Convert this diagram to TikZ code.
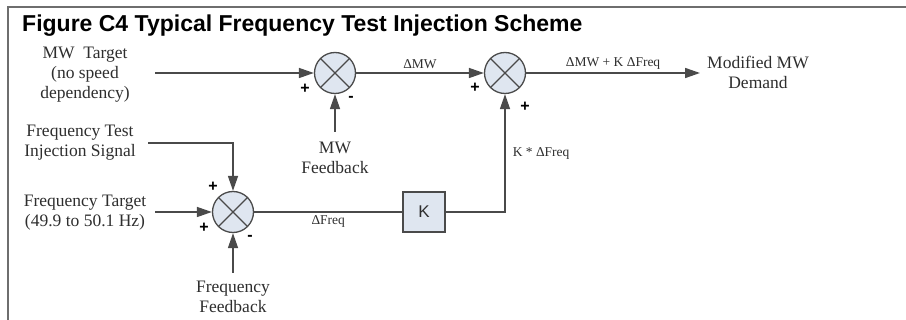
\documentclass[tikz,border=0pt]{standalone}
\usepackage{fontspec}
\setmainfont{Liberation Serif}
\setsansfont{Liberation Sans}
\usetikzlibrary{arrows.meta,positioning}
\definecolor{sumfill}{HTML}{DFE6F0}
\definecolor{linegray}{HTML}{4A4A4A}
\definecolor{txtgray}{HTML}{2E2E2E}
\tikzset{
  sumnode/.style={circle,draw=linegray,fill=sumfill,line width=1.3pt,minimum size=41pt,inner sep=0pt,
    path picture={\draw[linegray,line width=1.3pt]
      (path picture bounding box.south west) -- (path picture bounding box.north east)
      (path picture bounding box.north west) -- (path picture bounding box.south east);}},
  gainbox/.style={draw=linegray,fill=sumfill,line width=1.3pt,minimum width=42pt,minimum height=40pt,
    font=\sffamily\fontsize{17}{18}\selectfont,text=txtgray},
  txt/.style={align=center,text=txtgray,font=\fontsize{17.5}{20}\selectfont,inner sep=0pt},
  lbl/.style={text=txtgray,font=\fontsize{13.5}{15}\selectfont,inner sep=3pt},
  sgn/.style={text=black,font=\sffamily\bfseries\fontsize{16}{16}\selectfont,inner sep=0pt},
  sig/.style={linegray,line width=1.6pt,-{Triangle[length=15pt,width=10pt]}},
  wire/.style={linegray,line width=1.6pt}
}
\begin{document}
\begin{tikzpicture}[x=1pt,y=-1pt]
\useasboundingbox (0,0) rectangle (906,320);
\draw[linegray!80,line width=2pt] (906,7) -- (8,7) -- (8,320);
\node[anchor=base west,font=\sffamily\bfseries\fontsize{23}{25}\selectfont,inner sep=0pt] (title) at (22,32) {Figure C4 Typical Frequency Test Injection Scheme};

\node[sumnode] (summw) at (335,73) {};
\node[sumnode] (sumout) at (505,73) {};
\node[sumnode] (sumfreq) at (233,212) {};
\node[gainbox] (gain) at (424,212) {K};

\node[txt] (mwtarget) at (85,75) {MW\ \ Target\\(no speed\\dependency)};
\node[txt] (mwfbtxt) at (335,158) {MW\\Feedback};
\node[txt] (demand) at (758,72) {Modified MW\\Demand};
\node[txt] (inj) at (80,143) {Frequency Test\\Injection Signal};
\node[txt] (ftarget) at (85,213) {Frequency Target\\(49.9 to 50.1 Hz)};
\node[txt] (ffbtxt) at (233,297) {Frequency\\Feedback};

\coordinate (mwin) at (155,73);
\coordinate (mwfb) at (335,132);
\coordinate (outend) at (700,73);
\coordinate (injin) at (148,143);
\coordinate (ftin) at (155,212);
\coordinate (ffb) at (233,273);

\draw[sig] (mwin) -- (summw.west);
\draw[sig] (mwfb) -- (summw.south);
\draw[sig] (summw.east) -- node[lbl,above] {ΔMW} (sumout.west);
\draw[sig] (sumout.east) -- node[lbl,above] {ΔMW + K ΔFreq} (outend);
\draw[sig] (injin) -| (sumfreq.north);
\draw[sig] (ftin) -- (sumfreq.west);
\draw[sig] (ffb) -- (sumfreq.south);
\draw[wire] (sumfreq.east) -- node[lbl,below] {ΔFreq} (gain.west);
\draw[sig] (gain.east) -| node[lbl,pos=0.75,right,xshift=4pt] {K * ΔFreq} (sumout.south);

\node[sgn] (p1) at (305,89) {+};
\node[sgn] (m1) at (351,99) {-};
\node[sgn] (p2) at (475,88) {+};
\node[sgn] (p3) at (525,107) {+};
\node[sgn] (p4) at (213,187) {+};
\node[sgn] (p5) at (204,228) {+};
\node[sgn] (m2) at (250,238) {-};
\end{tikzpicture}
\end{document}
